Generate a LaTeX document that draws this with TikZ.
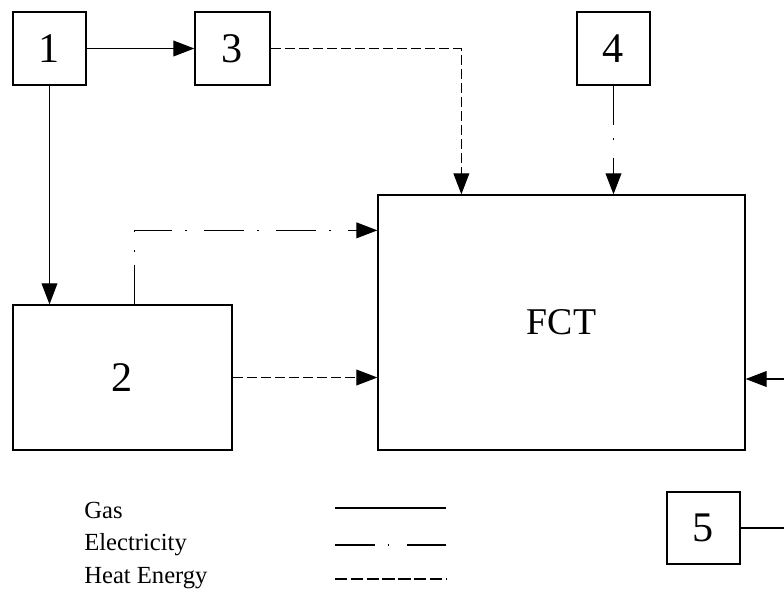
\documentclass[tikz,border=0pt]{standalone}
\usepackage{fontspec}
\setmainfont{Liberation Serif}
\usetikzlibrary{arrows.meta}
\tikzset{
  flow/.style={line width=0.75pt},
  unitbox/.style={draw,flow,minimum width=1.46cm,minimum height=1.46cm,
    inner sep=0pt,font=\fontsize{24}{24}\selectfont},
  bigbox/.style={draw,flow,inner sep=0pt},
  gas/.style={flow,-{Triangle[length=12pt,width=9pt]}},
  elecline/.style={flow,dash pattern=on 22.5pt off 7.5pt on 1pt off 10pt},
  heatline/.style={flow,dash pattern=on 5.7pt off 2.3pt},
  elec/.style={elecline,-{Triangle[length=12pt,width=9pt]}},
  heat/.style={heatline,-{Triangle[length=12pt,width=9pt]}},
  legend/.style={anchor=west,inner sep=0pt,font=\fontsize{14}{16}\selectfont}
}
\begin{document}
\begin{tikzpicture}[x=0.02cm,y=-0.02cm]
\useasboundingbox (0,0) rectangle (784,599);
% sources
\node[unitbox] (b1) at (49.5,48.5) {1};
\node[unitbox,minimum width=1.5cm] (b3) at (232.5,48.5) {3};
\node[unitbox] (b4) at (613.5,48.5) {4};
\node[unitbox,minimum height=1.44cm] (b5) at (703.5,528) {5};
\node[bigbox,minimum width=4.38cm,minimum height=2.9cm,
  font=\fontsize{24}{24}\selectfont] (b2) at (122.5,377.5) {2};
\node[bigbox,minimum width=7.34cm,minimum height=5.1cm,
  font=\fontsize{21.5}{24}\selectfont] (fct) at (561.5,322.5) {FCT};
% flows
\draw[gas] (b1) -- (b3);
\draw[gas] (b1) -- (b1 |- b2.north);
\draw[heat] (b3) -| ([xshift=1.68cm]fct.north west);
\draw[elec] (b4) -- (b4 |- fct.north);
\draw[elec] ([xshift=2.44cm]b2.north west) |- ([yshift=-0.72cm]fct.north west);
\draw[heat] (b2) -- (b2 -| fct.west);
\coordinate (bend) at (792,379);
\draw[gas] (b5) -| (bend) -- (bend -| fct.east);
% legend
\node[legend] (lgas) at (84,510) {Gas};
\node[legend] (lelec) at (84,545) {Electricity};
\node[legend] (lheat) at (84,578) {Heat Energy};
\draw[flow] (335,508) -- (446,508);
\draw[elecline] (335,545) -- (446,545);
\draw[heatline,dash pattern=on 7pt off 2pt] (335,579) -- (446,579);
\end{tikzpicture}
\end{document}
